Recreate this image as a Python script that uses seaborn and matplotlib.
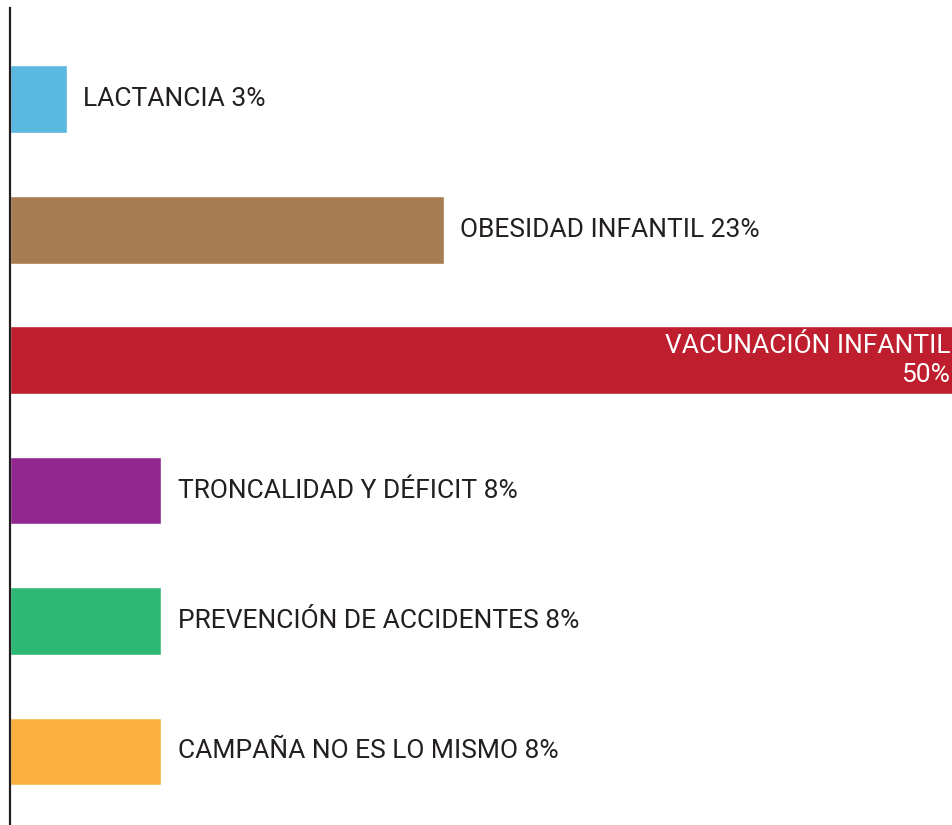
import pandas as pd
import matplotlib.pyplot as plt
import seaborn as sns

categorias = ['LACTANCIA', 'OBESIDAD INFANTIL', 'VACUNACIÓN INFANTIL',
              'TRONCALIDAD Y DÉFICIT', 'PREVENCIÓN DE ACCIDENTES', 'CAMPAÑA NO ES LO MISMO']
porcentajes = [3, 23, 50, 8, 8, 8]
colores = ['#5BB8DE', '#A67C52', '#BE1E2D', '#92278F', '#2DB873', '#FBB040']

df = pd.DataFrame({'categoria': categorias, 'pct': porcentajes})

sns.set_theme(style="white")
plt.rcParams['font.family'] = ['Roboto', 'DejaVu Sans']

fig = plt.figure(figsize=(9.53, 8.25), dpi=100)
ax = fig.add_axes([10 / 953, 0, 943 / 953, 817 / 825])

sns.barplot(data=df, x='pct', y='categoria', hue='categoria', palette=colores,
            legend=False, width=0.52, saturation=1, ax=ax)

ax.set_xlim(0, 50)
ax.set_ylim(5.564, -0.70)
ax.set_xticks([])
ax.set_yticks([])
ax.set_xlabel('')
ax.set_ylabel('')
for s in ['top', 'right', 'bottom']:
    ax.spines[s].set_visible(False)
ax.spines['left'].set_color('#231F20')
ax.spines['left'].set_linewidth(1.6)

# etiquetas: la barra mayor lleva el texto dentro, en blanco
for i, (cat, p) in enumerate(zip(categorias, porcentajes)):
    if p == max(porcentajes):
        ax.annotate(f'{cat}\n{p}%', xy=(p, i), xytext=(-2, 0), textcoords='offset points',
                    ha='right', va='center', color='white', fontsize=19,
                    linespacing=1.25)
    else:
        ax.annotate(f'{cat} {p}%', xy=(p, i), xytext=(12, 0), textcoords='offset points',
                    ha='left', va='center', color='#231F20', fontsize=19)

plt.savefig('out.png', dpi=100)
